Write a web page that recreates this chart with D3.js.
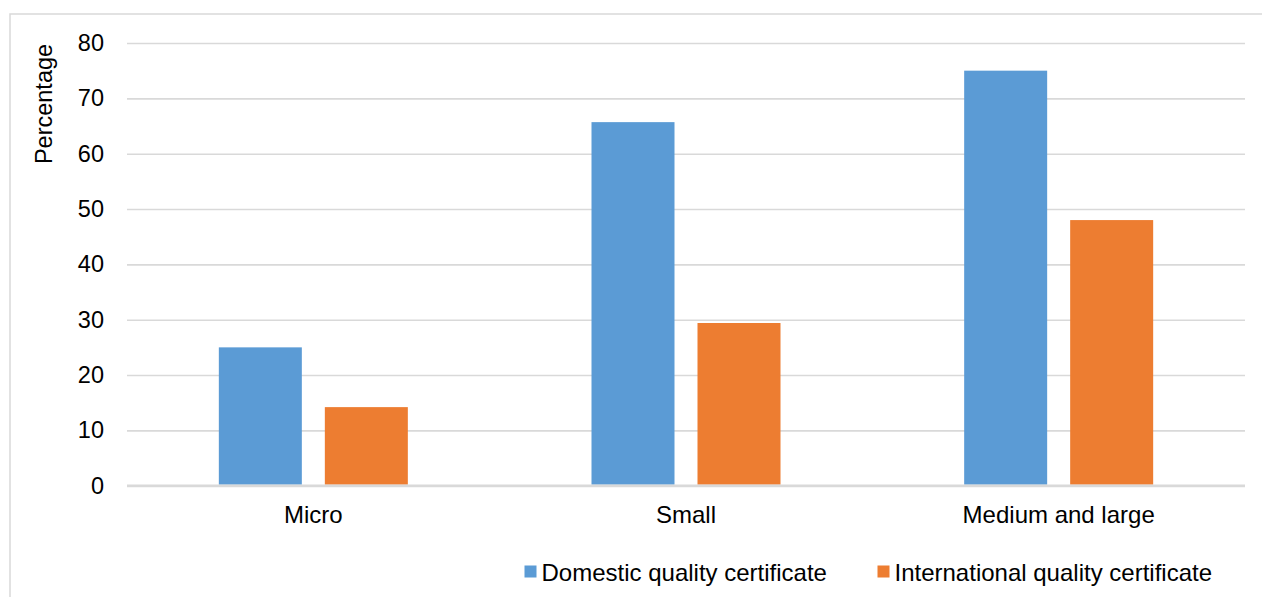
<!DOCTYPE html>
<html>
<head>
<meta charset="utf-8">
<script src="https://cdn.jsdelivr.net/npm/d3@7"></script>
<style>
  html, body { margin: 0; padding: 0; background: #fff; }
  svg { display: block; }
  text { font-family: "Liberation Sans", Arial, sans-serif; fill: #000; }
</style>
</head>
<body>
<svg id="chart" width="1262" height="597"></svg>
<script>
// Share of firms holding quality certificates, by firm size
const categories = ["Micro", "Small", "Medium and large"];
const seriesNames = ["Domestic quality certificate", "International quality certificate"];
const domestic = [25, 65.7, 75];
const international = [14.2, 29.4, 48];
const yTicks = [0, 10, 20, 30, 40, 50, 60, 70, 80];
const yLabel = "Percentage";
const colors = ["#5B9BD5", "#ED7D31"];

const svg = d3.select("#chart");
const W = 1262, H = 597;
const plot = { left: 127, right: 1245, top: 43, bottom: 485.7 };

// outer chart frame
svg.append("rect")
  .attr("x", 10).attr("y", 14)
  .attr("width", W + 10).attr("height", H + 10)
  .attr("fill", "#fff")
  .attr("stroke", "#d9d9d9").attr("stroke-width", 1.5);

const x0 = d3.scaleBand().domain(categories).range([plot.left, plot.right]).padding(0);
const x1 = d3.scaleBand().domain(seriesNames)
  .range([(x0.bandwidth() - 189) / 2, (x0.bandwidth() + 189) / 2])
  .paddingInner(0.217).paddingOuter(0);
const y = d3.scaleLinear().domain([0, 80]).range([plot.bottom, plot.top]);

// gridlines + tick labels via axis
const yAxis = d3.axisLeft(y).tickValues(yTicks).tickSize(-(plot.right - plot.left)).tickPadding(23);
const gy = svg.append("g").attr("transform", `translate(${plot.left},0)`).call(yAxis);
gy.select(".domain").remove();
gy.selectAll(".tick line")
  .attr("stroke", "#d9d9d9")
  .attr("stroke-width", d => d === 0 ? 2.2 : 1.6);
gy.selectAll(".tick text")
  .attr("font-size", 23.5)
  .attr("font-family", "'Liberation Sans', Arial, sans-serif")
  .attr("fill", "#000");

// bars
const rows = categories.map((c, i) => ({ cat: c, vals: [domestic[i], international[i]] }));
const groups = svg.append("g").selectAll("g").data(rows).join("g")
  .attr("transform", d => `translate(${x0(d.cat)},0)`);
groups.selectAll("rect")
  .data(d => d.vals.map((v, j) => ({ key: seriesNames[j], v, j })))
  .join("rect")
  .attr("x", d => x1(d.key))
  .attr("width", x1.bandwidth())
  .attr("y", d => y(d.v))
  .attr("height", d => y(0) - y(d.v) - 1)
  .attr("fill", d => colors[d.j]);

// redraw baseline over bars
svg.append("line")
  .attr("x1", plot.left).attr("x2", plot.right)
  .attr("y1", y(0)).attr("y2", y(0))
  .attr("stroke", "#d9d9d9").attr("stroke-width", 2.2);

// category labels
const xAxis = d3.axisBottom(x0).tickSize(0).tickPadding(0);
const gx = svg.append("g").attr("transform", `translate(0,${y(0)})`).call(xAxis);
gx.select(".domain").remove();
gx.selectAll(".tick text")
  .attr("font-size", 24)
  .attr("font-family", "'Liberation Sans', Arial, sans-serif")
  .attr("fill", "#000")
  .attr("dy", null)
  .attr("y", 37);

// y-axis title
svg.append("text")
  .attr("transform", "translate(52,104) rotate(-90)")
  .attr("text-anchor", "middle")
  .attr("font-size", 23.5)
  .text(yLabel);

// legend
const legendPos = [524.5, 877.5];
const legend = svg.append("g").selectAll("g").data(seriesNames).join("g")
  .attr("transform", (d, i) => `translate(${legendPos[i]},0)`);
legend.append("rect")
  .attr("x", 0).attr("y", 565.5).attr("width", 12).attr("height", 12)
  .attr("fill", (d, i) => colors[i]);
legend.append("text")
  .attr("x", 17).attr("y", 580.5)
  .attr("font-size", 24)
  .text(d => d);
</script>
</body>
</html>
